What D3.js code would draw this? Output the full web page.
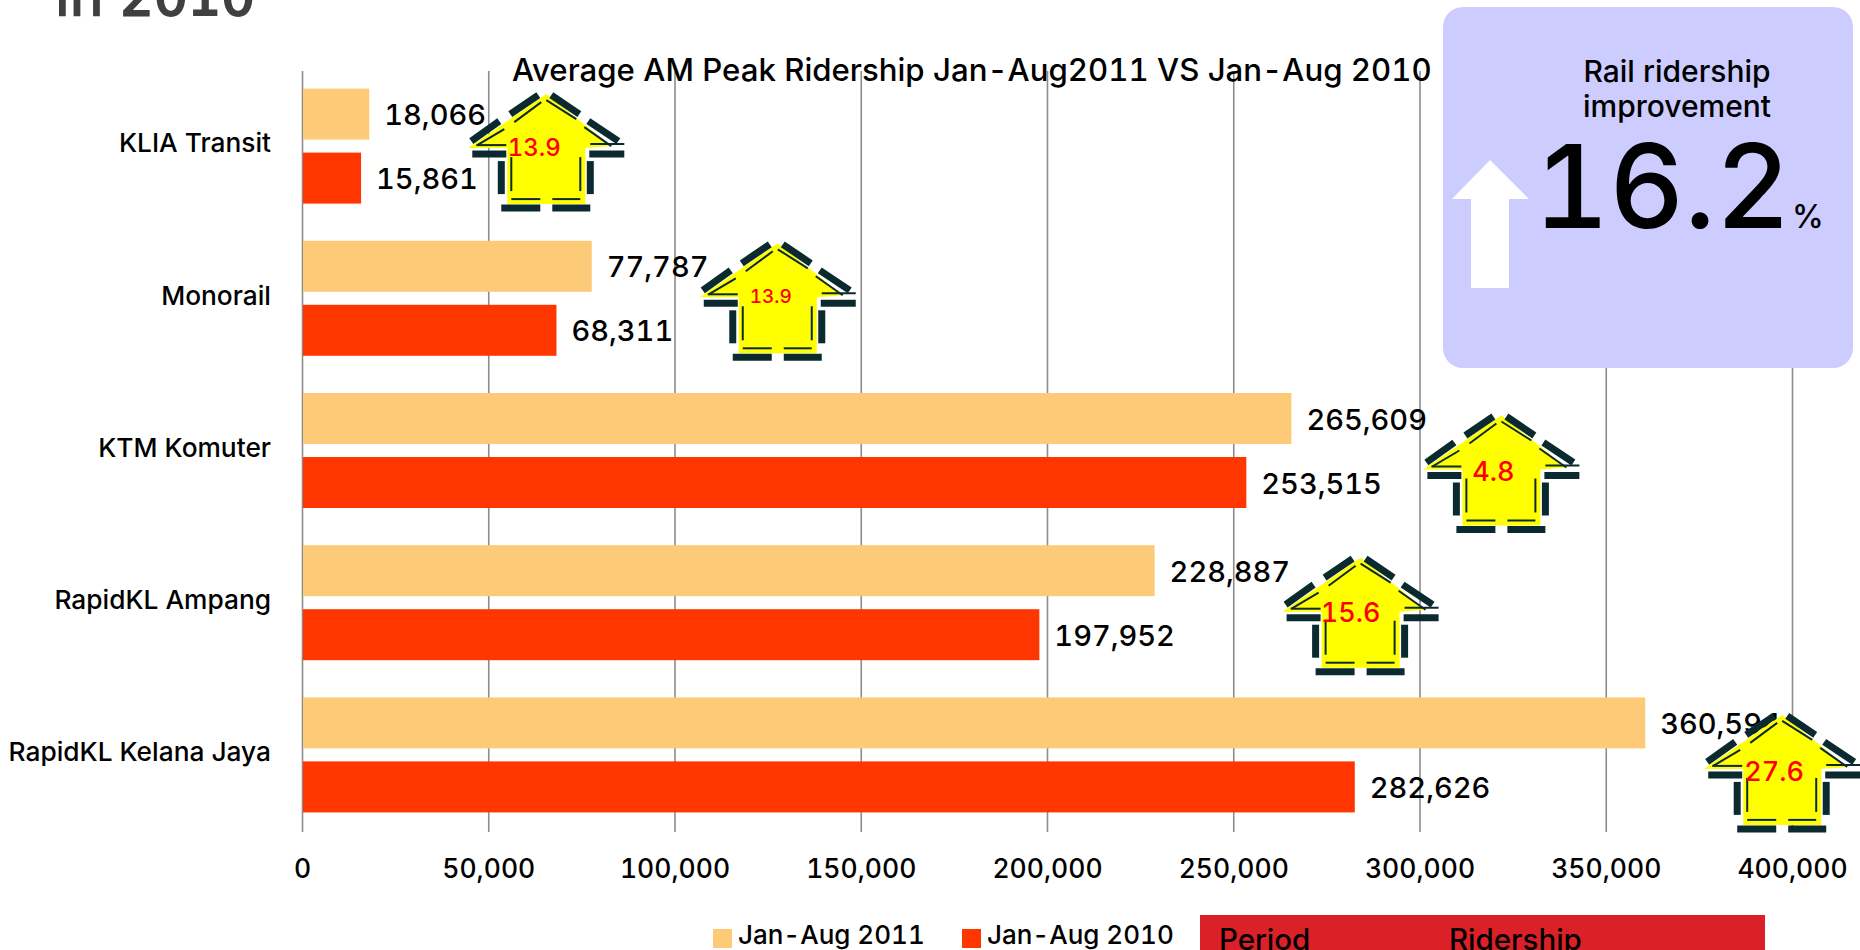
<!DOCTYPE html>
<html>
<head>
<meta charset="utf-8">
<style>
  html, body { margin: 0; padding: 0; background: #fff; overflow: hidden; }
  text { font-family: Inter, "Noto Sans", sans-serif; fill: #000; font-weight: 500; font-variant-numeric: tabular-nums; }
</style>
<script src="https://cdn.jsdelivr.net/npm/d3@7"></script>
</head>
<body>
<svg id="chart"></svg>
<script>
const width = 1860;
const height = 950;

// data
const lines = ["KLIA Transit", "Monorail", "KTM Komuter", "RapidKL Ampang", "RapidKL Kelana Jaya"];
const ridership2011 = [18066, 77787, 265609, 228887, 360594];
const ridership2010 = [15861, 68311, 253515, 197952, 282626];
const growth = ["13.9", "13.9", "4.8", "15.6", "27.6"];
const xTicks = [0, 50000, 100000, 150000, 200000, 250000, 300000, 350000, 400000];
const seriesNames = ["Jan-Aug 2011", "Jan-Aug 2010"];
const tableHead = ["Period", "Ridership"];

const colour2011 = "#fdca78";
const colour2010 = "#ff3600";

// where each house sits, relative to the end of the 2011 bar / the band centre
const houseDx = [177, 186, 210, 206, 137];
const houseDy = [-53, -56, -36, -46, -41];
const houseFont = [24, 19, 27, 27, 27];
const houseTextX = [-12, -7, -8, -10, -8];
const houseTextY = [62, 60, 65, 64, 66];

const svg = d3.select("#chart").attr("width", width).attr("height", height);

const x = d3.scaleLinear().domain([0, 400000]).range([302, 1792]);
const y = d3.scaleBand().domain(lines).range([71, 832]);
const barH = 51;
const barGap = 13;
const groupTop = d => y(d) + (y.bandwidth() - barH * 2 - barGap) / 2 - 1;

// ===== TITLE CUT OFF AT THE TOP =====
svg.append("text")
  .attr("x", 55).attr("y", 15)
  .style("font-family", "'DejaVu Sans'")
  .style("font-size", "53px")
  .style("fill", "#404040")
  .style("stroke", "#404040")
  .style("stroke-width", 2)
  .text("in 2010");

// ===== AXES =====
const xAxis = d3.axisBottom(x)
  .tickValues(xTicks)
  .tickFormat(d3.format(","))
  .tickSize(761)
  .tickPadding(27);

const gx = svg.append("g").attr("transform", "translate(0,71)").call(xAxis);
gx.select(".domain").remove();
gx.selectAll(".tick line").attr("stroke", "#8c8c8c").attr("stroke-width", 1.6);
gx.selectAll(".tick text").style("font-size", "26.5px").style("font-family", "Inter");

const gy = svg.append("g").attr("transform", "translate(302,0)")
  .call(d3.axisLeft(y).tickSize(0).tickPadding(31));
gy.select(".domain").remove();
gy.selectAll(".tick text")
  .attr("dy", "0.2em")
  .style("font-size", "26.3px")
  .style("font-family", "Inter");

// ===== BARS =====
const rows = lines.map((name, i) => ({
  name, i, v2011: ridership2011[i], v2010: ridership2010[i]
}));

svg.append("g").selectAll("rect").data(rows).join("rect")
  .attr("x", x(0) + 1)
  .attr("y", d => groupTop(d.name))
  .attr("width", d => x(d.v2011) - x(0) - 1)
  .attr("height", barH)
  .attr("fill", colour2011);

svg.append("g").selectAll("rect").data(rows).join("rect")
  .attr("x", x(0) + 1)
  .attr("y", d => groupTop(d.name) + barH + barGap)
  .attr("width", d => x(d.v2010) - x(0) - 1)
  .attr("height", barH)
  .attr("fill", colour2010);

const fmt = d3.format(",");
svg.append("g").selectAll("text").data(rows).join("text")
  .attr("x", d => x(d.v2011) + 15)
  .attr("y", d => groupTop(d.name) + barH / 2 + 11)
  .style("font-size", "29px")
  .text(d => fmt(d.v2011));
svg.append("g").selectAll("text").data(rows).join("text")
  .attr("x", d => x(d.v2010) + 15)
  .attr("y", d => groupTop(d.name) + barH + barGap + barH / 2 + 11)
  .style("font-size", "29px")
  .text(d => fmt(d.v2010));

// ===== CHART TITLE =====
svg.append("text")
  .attr("x", 512).attr("y", 81)
  .style("font-size", "31.2px")
  .text("Average AM Peak Ridership Jan-Aug2011 VS Jan-Aug 2010");

// ===== HOUSE ARROWS =====
// shape in local px, (0,0) is the tip of the roof
function drawHouse(g) {
  g.append("path")
    .attr("d", "M0,0L65,52L39,54V110H-39V54H-78Z")
    .attr("fill", "#ffff00");

  const thick = [
    [-75, 47, -47, 27], [-36, 20, -8, 1], [5, 1, 33, 20], [42, 27, 72, 47],
    [-74, 60, -40, 60], [43, 60, 78, 60],
    [-45, 67, -45, 100], [44, 67, 44, 100],
    [-45, 114, -6, 114], [6, 114, 44, 114]
  ];
  const thin = [
    [-69, 51, -42, 35], [-32, 28, -5, 8], [0, 6, 30, 25], [38, 33, 65, 52],
    [44, 50, 78, 50], [-70, 51, -40, 51],
    [-35, 63, -35, 97], [34, 63, 34, 97],
    [-35, 105, -6, 105], [6, 105, 34, 105]
  ];
  g.selectAll(".thick").data(thick).join("line").attr("class", "thick")
    .attr("x1", d => d[0]).attr("y1", d => d[1])
    .attr("x2", d => d[2]).attr("y2", d => d[3])
    .attr("stroke", "#0b2a2f").attr("stroke-width", 7);
  g.selectAll(".thin").data(thin).join("line").attr("class", "thin")
    .attr("x1", d => d[0]).attr("y1", d => d[1])
    .attr("x2", d => d[2]).attr("y2", d => d[3])
    .attr("stroke", "#0b2a2f").attr("stroke-width", 2);
}

const houses = svg.append("g").selectAll("g").data(rows).join("g")
  .attr("transform", d =>
    `translate(${x(d.v2011) + houseDx[d.i]},${y(d.name) + y.bandwidth() / 2 + houseDy[d.i]})`);
houses.each(function () { drawHouse(d3.select(this)); });
houses.append("text")
  .attr("x", d => houseTextX[d.i])
  .attr("y", d => houseTextY[d.i])
  .attr("text-anchor", "middle")
  .style("fill", "#ff0000")
  .style("font-size", d => houseFont[d.i] + "px")
  .text(d => growth[d.i]);

// ===== IMPROVEMENT BOX =====
svg.append("rect")
  .attr("x", 1443).attr("y", 7).attr("width", 410).attr("height", 361)
  .attr("rx", 20)
  .attr("fill", "#ccccff");
svg.append("path")
  .attr("d", "M1490,160L1529,199H1509V288H1471V199H1452Z")
  .attr("fill", "#fff");
svg.append("text").attr("x", 1677).attr("y", 82).attr("text-anchor", "middle")
  .style("font-size", "30px").text("Rail ridership");
svg.append("text").attr("x", 1677).attr("y", 117).attr("text-anchor", "middle")
  .style("font-size", "30px").text("improvement");
svg.append("text").attr("x", 1534).attr("y", 228)
  .style("font-size", "116px")
  .text("16.2");
svg.append("text").attr("x", 1792).attr("y", 228)
  .style("font-size", "32px").text("%");

// ===== LEGEND =====
const legend = svg.append("g").selectAll("g").data(seriesNames).join("g")
  .attr("transform", (d, i) => `translate(${713 + i * 249},929)`);
legend.append("rect").attr("width", 19).attr("height", 19)
  .attr("fill", (d, i) => i === 0 ? colour2011 : colour2010);
legend.append("text").attr("x", 25).attr("y", 15)
  .style("font-size", "26px").text(d => d);

// ===== TABLE HEADER, CUT OFF AT THE BOTTOM =====
svg.append("rect")
  .attr("x", 1200).attr("y", 915).attr("width", 565).attr("height", 35)
  .attr("fill", "#dc2028");
svg.selectAll(".head").data(tableHead).join("text").attr("class", "head")
  .attr("x", (d, i) => i === 0 ? 1219 : 1449)
  .attr("y", 950)
  .style("font-size", "29.5px")
  .text(d => d);
</script>
</body>
</html>
